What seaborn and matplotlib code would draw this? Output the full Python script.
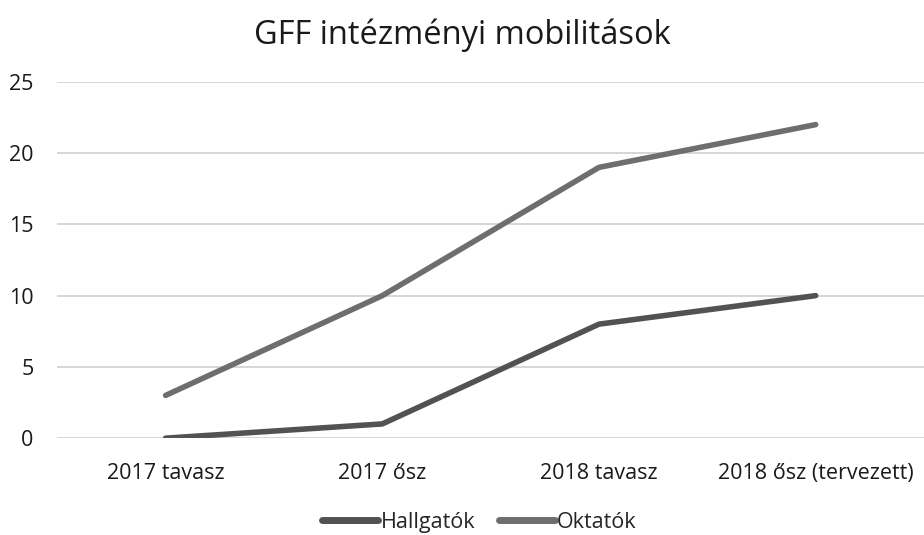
import pandas as pd
import matplotlib.pyplot as plt
import seaborn as sns

# Data
periods = ['2017 tavasz', '2017 ősz', '2018 tavasz', '2018 ősz (tervezett)']
hallgatok = [0, 1, 8, 10]
oktatok = [3, 10, 19, 22]

df = pd.DataFrame({
    'Időszak': periods * 2,
    'Érték': hallgatok + oktatok,
    'Csoport': ['Hallgatók'] * len(periods) + ['Oktatók'] * len(periods),
})

sns.set_style('white')
plt.rcParams['font.family'] = ['Open Sans', 'DejaVu Sans']

fig = plt.figure(figsize=(9.24, 5.35), dpi=100)
ax = fig.add_axes([0.062, 0.181, 0.938, 0.666])

sns.lineplot(data=df, x='Időszak', y='Érték', hue='Csoport', sort=False,
             palette={'Hallgatók': '#525252', 'Oktatók': '#6e6e6e'},
             linewidth=4, ax=ax)
for line in ax.lines:
    line.set_solid_capstyle('round')

ax.set_ylim(0, 25)
ax.set_xlim(-0.5, 3.5)
ax.set_yticks(range(0, 26, 5))
ax.yaxis.grid(True, color='#cfcfcf', linewidth=1.2)
ax.set_axisbelow(True)
ax.tick_params(axis='both', length=0, labelsize=15.5, colors='#1a1a1a')
ax.tick_params(axis='y', pad=17)
ax.tick_params(axis='x', pad=18)
ax.set_xlabel('')
ax.set_ylabel('')
sns.despine(ax=ax, left=True, bottom=True)

fig.suptitle('GFF intézményi mobilitások', fontsize=23.5, color='#1a1a1a', y=0.965)

leg = ax.legend(loc='upper center', bbox_to_anchor=(0.487, -0.152), ncol=2, frameon=False,
                fontsize=15.5, handlelength=2.6, handletextpad=0.1, columnspacing=1.1)
for h in leg.get_lines():
    h.set_linewidth(5)

fig.savefig('out.png', dpi=100)
